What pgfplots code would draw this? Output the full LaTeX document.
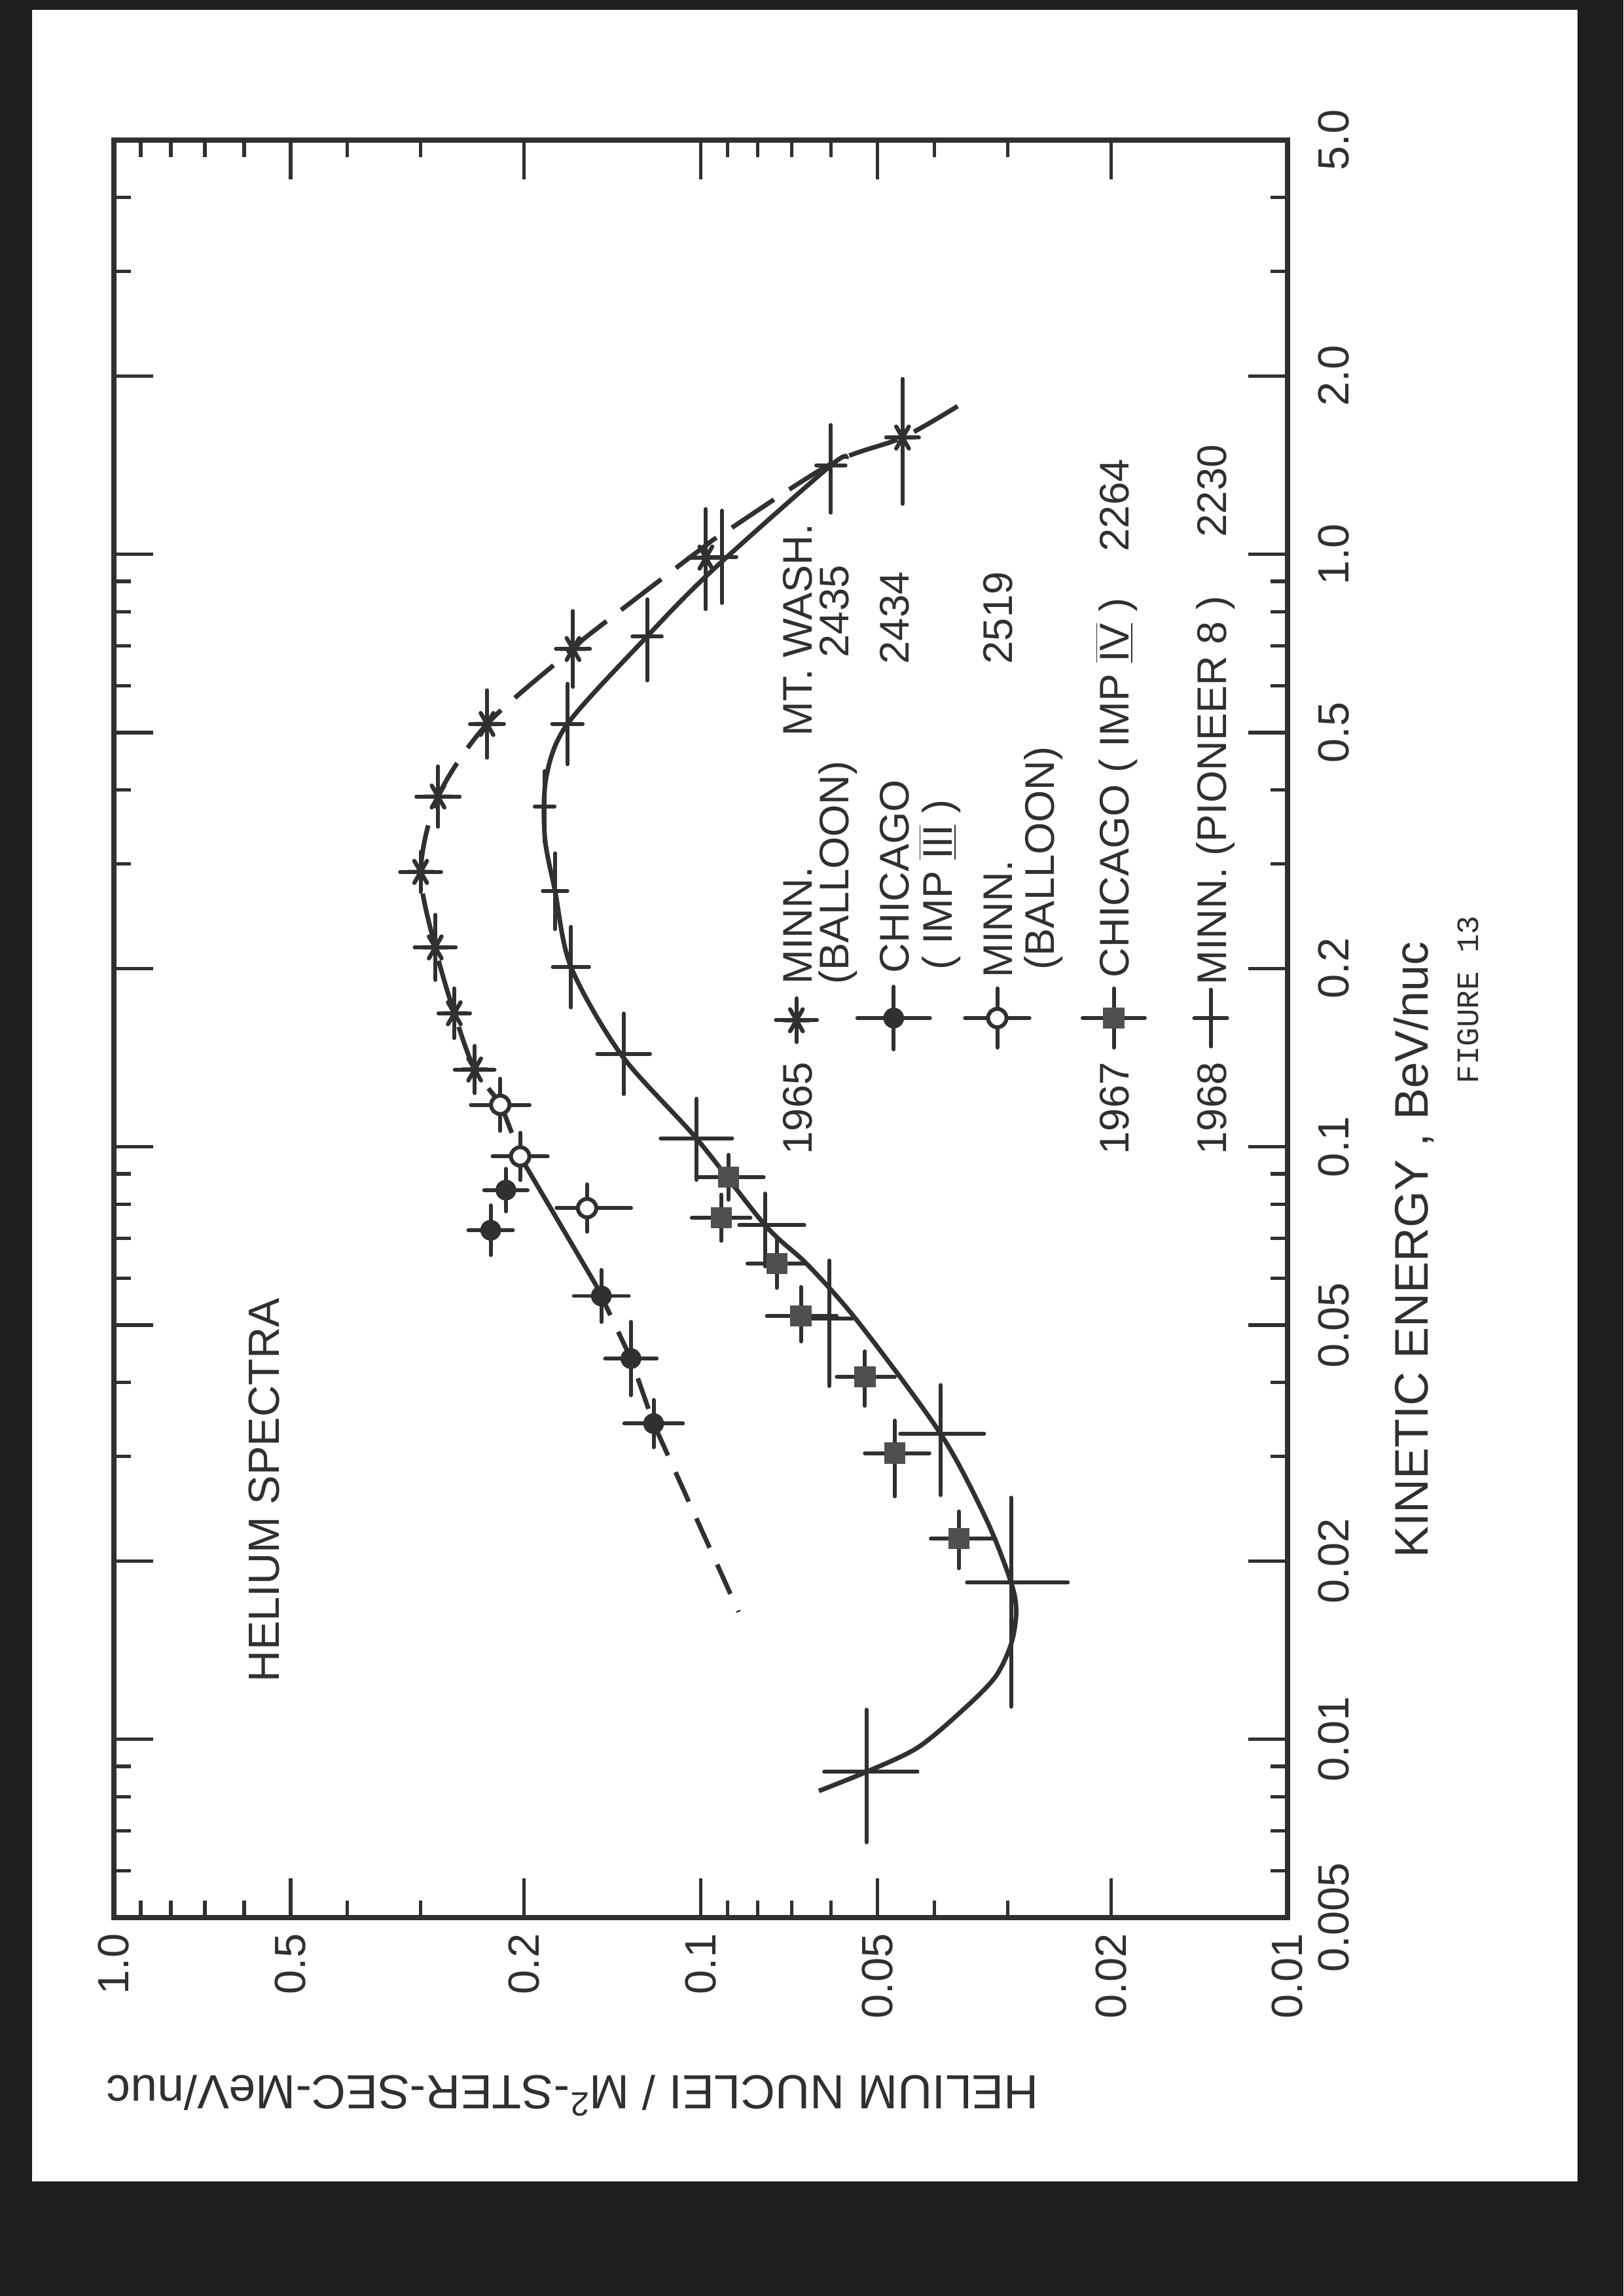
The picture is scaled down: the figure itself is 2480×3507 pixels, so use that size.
\documentclass[border=0pt]{standalone}
\usepackage{pgfplots}
\pgfplotsset{compat=1.18}
\usepackage{pgfplotstable}
\usepackage{fontspec}
\setmainfont{Liberation Sans}
\newfontfamily\typew{Liberation Mono}
\definecolor{ink}{HTML}{303030}
\definecolor{scan}{HTML}{1E1E1E}
\newcommand\tkfont{\fontsize{19}{22}\selectfont}
\newcommand\legfont{\fontsize{18}{21}\selectfont}
\newcommand\rom[1]{$\overline{\underline{\mbox{#1}}}$}

% columns: flux, energy, error in dex (flux up/down, energy up/down)
\pgfplotstableread{
F E fp fm ep em
0.0453 1.574 0.028 0.028 0.099 0.112
0.0980 0.987 0.030 0.030 0.082 0.087
0.1651 0.692 0.029 0.029 0.064 0.064
0.2313 0.517 0.029 0.029 0.057 0.057
0.2803 0.390 0.037 0.037 0.051 0.051
0.3001 0.291 0.035 0.035 0.034 0.034
0.2834 0.217 0.035 0.035 0.055 0.055
0.2630 0.168 0.027 0.027 0.042 0.042
0.2428 0.135 0.034 0.034 0.040 0.040
}\minnA
\pgfplotstableread{
F E fp fm ep em
0.2196 0.1177 0.050 0.050 0.044 0.044
0.2031 0.0963 0.047 0.047 0.040 0.040
0.1562 0.0788 0.052 0.075 0.040 0.040
}\minnB
\pgfplotstableread{
F E fp fm ep em
0.2148 0.0845 0.037 0.037 0.036 0.036
0.2280 0.0723 0.038 0.038 0.042 0.042
0.1477 0.0560 0.047 0.047 0.044 0.044
0.1315 0.0439 0.044 0.044 0.062 0.062
0.1203 0.0341 0.050 0.050 0.040 0.040
}\chiA
\pgfplotstableread{
F E fp fm ep em
0.0897 0.0888 0.055 0.060 0.038 0.038
0.0923 0.0759 0.050 0.050 0.039 0.039
0.0742 0.0635 0.050 0.050 0.041 0.041
0.0675 0.0518 0.058 0.061 0.049 0.043
0.0525 0.0409 0.048 0.051 0.043 0.049
0.0467 0.0304 0.051 0.059 0.055 0.073
0.0363 0.0218 0.048 0.062 0.046 0.050
}\chiB
\pgfplotstableread{
F E fp fm ep em
0.0600 1.413 0.025 0.025 0.068 0.080
0.0921 0.990 0.025 0.025 0.078 0.078
0.1234 0.726 0.025 0.025 0.063 0.074
0.1687 0.517 0.026 0.026 0.068 0.068
0.1845 0.375 0.017 0.017 0.060 0.060
0.1771 0.270 0.021 0.021 0.064 0.064
0.1664 0.201 0.031 0.031 0.068 0.068
0.1353 0.1435 0.045 0.045 0.068 0.068
0.1017 0.1033 0.061 0.061 0.067 0.070
0.0777 0.0738 0.044 0.067 0.053 0.070
0.0604 0.0513 0.040 0.040 0.098 0.114
0.0390 0.0328 0.069 0.074 0.082 0.104
0.0296 0.0184 0.075 0.097 0.143 0.210
0.0522 0.00881 0.072 0.087 0.105 0.119
}\pio
% legend symbols
\pgfplotstableread{
F E fp fm ep em
0.0687 0.1635 0.035 0.035 0.037 0.037
}\legA
\pgfplotstableread{
F E fp fm ep em
0.0469 0.1649 0.062 0.062 0.053 0.053
}\legB
\pgfplotstableread{
F E fp fm ep em
0.03124 0.1649 0.055 0.055 0.050 0.050
}\legC
\pgfplotstableread{
F E fp fm ep em
0.01978 0.1649 0.053 0.053 0.050 0.050
}\legD
\pgfplotstableread{
F E fp fm ep em
0.01352 0.1649 0.028 0.028 0.048 0.048
}\legE
% fitted curves
\pgfplotstableread{
F E
0.0365 1.778
0.0453 1.574
0.0600 1.421
0.0912 1.087
0.0992 1.026
0.1538 0.736
0.1651 0.692
0.2313 0.517
0.2803 0.390
0.3001 0.291
0.2834 0.217
0.2630 0.168
0.2428 0.135
0.2196 0.1177
0.2031 0.0963
}\curveA
\pgfplotstableread{
F E
0.0629 0.00818
0.0522 0.00881
0.0427 0.00968
0.0357 0.01122
0.0315 0.01273
0.0296 0.01446
0.0290 0.01640
0.0296 0.01841
0.0326 0.02348
0.0390 0.03276
0.0540 0.05072
0.0658 0.06327
0.0777 0.07375
0.1017 0.1033
0.1364 0.1427
0.1664 0.2011
0.1771 0.2702
0.1844 0.3333
0.1833 0.4210
0.1687 0.5172
0.1235 0.7263
0.0960 0.9354
0.0600 1.413
0.0565 1.449
}\curveB

\pgfplotsset{
  table/logerr/.style={x=F, y=E,
    x error plus expr=\thisrow{F}*(10^(\thisrow{fp})-1),
    x error minus expr=\thisrow{F}*(1-10^(-\thisrow{fm})),
    y error plus expr=\thisrow{E}*(10^(\thisrow{ep})-1),
    y error minus expr=\thisrow{E}*(1-10^(-\thisrow{em}))},
  ebars/.style={error bars/x dir=both, error bars/x explicit,
    error bars/y dir=both, error bars/y explicit,
    error bars/error mark=none,
    error bars/error bar style={line width=1.7pt, draw=ink, solid, line cap=round}},
  astm/.style={only marks, mark=asterisk, mark size=5.5pt,
    mark options={rotate=90, line width=1.8pt, draw=ink, solid, line cap=round}},
  fcm/.style={only marks, mark=*, mark size=4.3pt, mark options={fill=ink, draw=ink, solid}},
  ocm/.style={only marks, mark=*, mark size=4pt, mark options={fill=white, draw=ink, line width=1.7pt, solid}},
  sqm/.style={only marks, mark=square*, mark size=4.4pt, mark options={fill=ink!85, draw=ink!85, solid}},
}

\begin{document}
\begin{tikzpicture}
\begin{scope}[x=0.1mm,y=-0.1mm]
\useasboundingbox (0,0) rectangle (2480,3507);
\fill[scan] (0,0) rectangle (2480,3507);
\fill[white] (49,15) rectangle (2410,3332);
\end{scope}
\begin{axis}[
    at={(17.4mm,-292.9mm)}, anchor=south west,
    scale only axis, width=179.3mm, height=271.5mm,
    xmode=log, ymode=log, x dir=reverse,
    xmin=0.01, xmax=1, ymin=0.005, ymax=5,
    xtick={0.01,0.02,0.05,0.1,0.2,0.5,1},
    xticklabels={0.01,0.02,0.05,0.1,0.2,0.5,1.0},
    minor xtick={0.03,0.04,0.06,0.07,0.08,0.09,0.3,0.4,0.6,0.7,0.8,0.9},
    ytick={0.005,0.01,0.02,0.05,0.1,0.2,0.5,1,2,5},
    yticklabels={0.005,0.01,0.02,0.05,0.1,0.2,0.5,1.0,2.0,5.0},
    minor ytick={0.006,0.007,0.008,0.009,0.03,0.04,0.06,0.07,0.08,0.09,0.3,0.4,0.6,0.7,0.8,0.9,3,4},
    tick align=inside, tick pos=both,
    xticklabel pos=left, yticklabel pos=right,
    major tick length=6mm, minor tick length=2.6mm,
    tick style={line width=1.5pt, ink},
    axis line style={line width=2.2pt, ink},
    /pgf/number format/assume math mode=true,
    ticklabel style={font=\tkfont, text=ink},
    xticklabel style={rotate=90, anchor=east},
    yticklabel style={rotate=90, anchor=north},
    xticklabel shift=1.2mm, yticklabel shift=3.4mm,
]
% curves
\addplot[ink, line width=2pt, dash pattern=on 22pt off 8pt, smooth, tension=0.5] table {\curveA};
\addplot[ink, line width=2pt] coordinates {(0.2031,0.0963) (0.1505,0.0582)};
\addplot[ink, line width=2pt, dash pattern=on 14pt off 8pt] coordinates {(0.1505,0.0582) (0.1315,0.0439) (0.1203,0.0341) (0.0862,0.0164)};
\addplot[ink, line width=2pt, smooth, tension=0.5] table {\curveB};
% data
\addplot[only marks, mark=+, mark size=0.01pt, ink, ebars] table[logerr] {\pio};
\addplot[astm, ebars] table[logerr] {\minnA};
\addplot[fcm, ebars] table[logerr] {\chiA};
\addplot[ocm, ebars] table[logerr] {\minnB};
\addplot[sqm, ebars] table[logerr] {\chiB};
% legend symbols
\addplot[astm, ebars] table[logerr] {\legA};
\addplot[fcm, ebars] table[logerr] {\legB};
\addplot[ocm, ebars] table[logerr] {\legC};
\addplot[sqm, ebars] table[logerr] {\legD};
\addplot[only marks, mark=+, mark size=0.01pt, ink, ebars] table[logerr] {\legE};
\end{axis}
\begin{scope}[x=0.1mm,y=-0.1mm, every node/.style={text=ink, inner sep=0pt}]
\node[rotate=90, anchor=base, font=\fontsize{20.5}{24}\selectfont] at (2181,1909) {KINETIC ENERGY , BeV/nuc};
\node[rotate=90, anchor=base, font=\typew\fontsize{13.5}{16}\selectfont] at (2258,1527) {FIGURE 13};
\node[rotate=90, anchor=base, font=\fontsize{19}{22}\selectfont] at (426,2276) {HELIUM SPECTRA};
\node[rotate=180, anchor=base, font=\fontsize{20.8}{24}\selectfont] at (875,3170) {HELIUM NUCLEI / M\textsuperscript{2}-STER-SEC-MeV/nuc};
% legend text
\begin{scope}[every node/.append style={rotate=90, anchor=base west, font=\legfont}]
\node at (1240,1764) {1965};
\node at (1240,1504) {MINN.};
\node at (1240,1125) {MT. WASH.};
\node at (1296,1504) {(BALLOON)};
\node at (1296,1005) {2435};
\node at (1388,1487) {CHICAGO};
\node at (1388,1015) {2434};
\node at (1454,1482) {( IMP \rom{III} )};
\node at (1546,1494) {MINN.};
\node at (1546,1015) {2519};
\node at (1610,1482) {(BALLOON)};
\node at (1724,1764) {1967};
\node at (1724,1494) {CHICAGO ( IMP \rom{IV} )};
\node at (1724,843) {2264};
\node at (1873,1764) {1968};
\node at (1873,1505) {MINN. (PIONEER 8 )};
\node at (1873,821) {2230};
\end{scope}
\end{scope}
\end{tikzpicture}
\end{document}
